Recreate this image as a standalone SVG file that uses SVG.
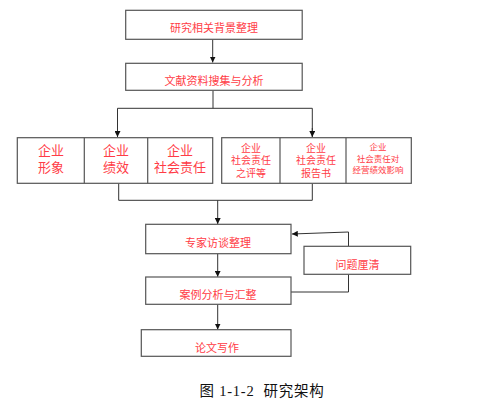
<svg xmlns="http://www.w3.org/2000/svg" width="494" height="403" viewBox="0 0 494 403">
<style>
.box{fill:#fff;stroke:#555;stroke-width:1.2}
.ln{fill:none;stroke:#333;stroke-width:1}
.t{font-family:"Liberation Serif","Noto Sans CJK SC",serif;fill:#ff3c46;text-anchor:middle}
.cap{font-family:"Liberation Serif","Noto Sans CJK SC",serif;fill:#111;text-anchor:middle;font-size:14.5px;letter-spacing:0.8px}
</style>
<defs>
<marker id="ah" viewBox="0 0 8 8" refX="8" refY="4" markerWidth="6" markerHeight="6" orient="auto" markerUnits="userSpaceOnUse">
<path d="M0,0 L8,4 L0,8 Z" fill="#111"/>
</marker>
</defs>
<rect width="494" height="403" fill="#fff"/>
<g id="connectors">
<line class="ln" x1="212.7" y1="39.5" x2="212.7" y2="62.5" marker-end="url(#ah)"/>
<polyline class="ln" points="213,90.5 213,108.3"/>
<polyline class="ln" points="117.5,136.8 117.5,108.3 312.3,108.3 312.3,136.8"/>
<line class="ln" x1="117.5" y1="128" x2="117.5" y2="137" marker-end="url(#ah)"/>
<line class="ln" x1="312.3" y1="128" x2="312.3" y2="137" marker-end="url(#ah)"/>
<polyline class="ln" points="118.7,183.5 118.7,200.3 312.3,200.3 312.3,183.5"/>
<line class="ln" x1="217.7" y1="200.3" x2="217.7" y2="224" marker-end="url(#ah)"/>
<line class="ln" x1="217.7" y1="253.8" x2="217.7" y2="276.8" marker-end="url(#ah)"/>
<line class="ln" x1="217.7" y1="304.4" x2="217.7" y2="329.5" marker-end="url(#ah)"/>
<polyline class="ln" points="291,292 348.5,292 348.5,274.3"/>
<polyline class="ln" points="348.5,246.3 348.5,232 291.8,234" marker-end="url(#ah)"/>
</g>
<g id="n1">
<rect class="box" x="125.7" y="10.3" width="176.5" height="29"/>
<text class="t" x="214" y="32" font-size="11">研究相关背景整理</text>
</g>
<g id="n2">
<rect class="box" x="125.7" y="63.3" width="176.5" height="27"/>
<text class="t" x="214" y="85" font-size="11">文献资料搜集与分析</text>
</g>
<g id="g1">
<rect class="box" x="17.3" y="137.7" width="195.4" height="45.6"/>
<line class="box" x1="84.3" y1="137.7" x2="84.3" y2="183.3"/>
<line class="box" x1="147.7" y1="137.7" x2="147.7" y2="183.3"/>
<text class="t" font-size="13"><tspan x="51" y="155">企业</tspan><tspan x="51" y="172">形象</tspan></text>
<text class="t" font-size="13"><tspan x="116" y="155">企业</tspan><tspan x="116" y="172">绩效</tspan></text>
<text class="t" font-size="13"><tspan x="180" y="155">企业</tspan><tspan x="180" y="172">社会责任</tspan></text>
</g>
<g id="g2">
<rect class="box" x="221.7" y="137.7" width="189.6" height="45.6"/>
<line class="box" x1="280" y1="137.7" x2="280" y2="183.3"/>
<line class="box" x1="346" y1="137.7" x2="346" y2="183.3"/>
<text class="t" font-size="10"><tspan x="251" y="151.5">企业</tspan><tspan x="251" y="164">社会责任</tspan><tspan x="251" y="176.5">之评等</tspan></text>
<text class="t" font-size="10"><tspan x="316" y="151.5">企业</tspan><tspan x="316" y="164">社会责任</tspan><tspan x="316" y="176.5">报告书</tspan></text>
<text class="t" font-size="8.5"><tspan x="378" y="150">企业</tspan><tspan x="378" y="161.5">社会责任对</tspan><tspan x="378" y="172.5">经营绩效影响</tspan></text>
</g>
<g id="n3">
<rect class="box" x="145.7" y="224.3" width="145.3" height="29.4"/>
<text class="t" x="218" y="246.5" font-size="11">专家访谈整理</text>
</g>
<g id="n4">
<rect class="box" x="145.7" y="277" width="145.3" height="27.3"/>
<text class="t" x="218" y="299" font-size="11">案例分析与汇整</text>
</g>
<g id="n5">
<rect class="box" x="141.3" y="329.7" width="149.7" height="26.6"/>
<text class="t" x="217" y="352" font-size="11">论文写作</text>
</g>
<g id="n6">
<rect class="box" x="304" y="246.3" width="106.7" height="28"/>
<text class="t" x="357.5" y="269" font-size="11">问题厘清</text>
</g>
<text class="cap" x="262" y="396" xml:space="preserve">图 1-1-2  研究架构</text>
</svg>
